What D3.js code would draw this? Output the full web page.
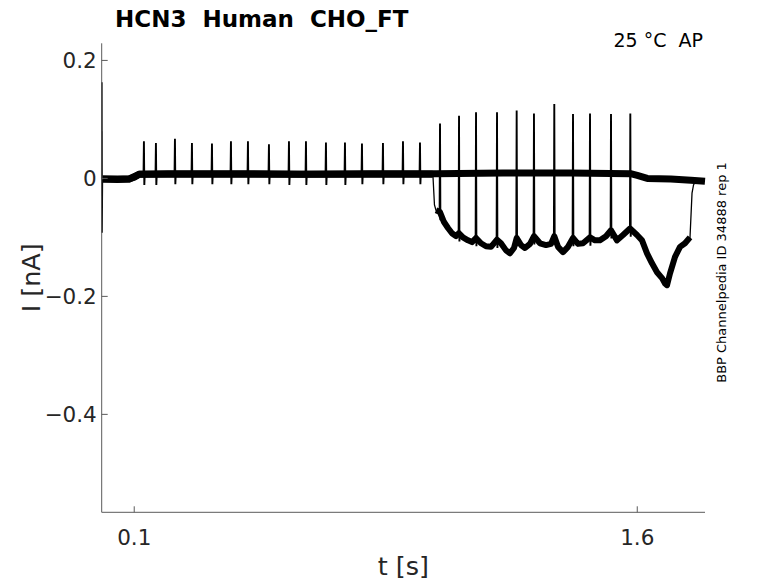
<!DOCTYPE html>
<html>
<head>
<meta charset="utf-8">
<script src="https://cdn.jsdelivr.net/npm/d3@7"></script>
<style>
  html, body { margin: 0; padding: 0; background: #fff; }
  svg { display: block; font-family: "DejaVu Sans", sans-serif; }
</style>
</head>
<body>
<svg id="chart" width="778" height="583"></svg>
<script>
// ---------- data ----------
const xTicks = [0.1, 1.6];
const xTickLabels = ["0.1", "1.6"];
const yTicks = [0.2, 0, -0.2, -0.4];
const yTickLabels = ["0.2", "0", "\u22120.2", "\u22120.4"];

// upper sweep baseline [t (s), I (nA)]
const upperBase = [
  [0.003, -0.001], [0.05, -0.002], [0.085, -0.001], [0.10, 0.002], [0.115, 0.007],
  [0.20, 0.008], [0.40, 0.008], [0.60, 0.007], [0.80, 0.008], [1.00, 0.008],
  [1.20, 0.009], [1.40, 0.009], [1.58, 0.008], [1.60, 0.005], [1.63, 0.000],
  [1.70, -0.001], [1.76, -0.003], [1.802, -0.005]
];
// spikes on the upper sweep
const upperSpikeT = [0.1289, 0.1647, 0.2214, 0.2721, 0.3318, 0.3884, 0.4391, 0.5017,
  0.5614, 0.6121, 0.6717, 0.7284, 0.7791, 0.8417, 0.9014, 0.9521];
const upperSpikePeak = [0.063, 0.060, 0.067, 0.060, 0.059, 0.063, 0.063, 0.058,
  0.063, 0.063, 0.061, 0.061, 0.059, 0.060, 0.063, 0.061];
const upperSpikeBase = [0.007, 0.007, 0.008, 0.008, 0.008, 0.008, 0.008, 0.008,
  0.007, 0.007, 0.007, 0.007, 0.008, 0.008, 0.008, 0.008];

// lower sweep (deviates from ~1.0 s to ~1.77 s)
const lowerTrace = [
  [0.003, -0.001], [0.085, -0.001], [0.115, 0.007], [0.99, 0.007],
  [0.9908, 0.004], [0.9953, -0.045], [0.9998, -0.054], [1.0117, -0.057], [1.0237, -0.074],
  [1.0356, -0.084], [1.0475, -0.093], [1.0594, -0.098], [1.0684, -0.093], [1.0803, -0.100],
  [1.0952, -0.105], [1.1072, -0.108], [1.1191, -0.101], [1.1340, -0.110], [1.1489, -0.115],
  [1.1638, -0.116], [1.1817, -0.104], [1.1936, -0.110], [1.2086, -0.122], [1.2205, -0.127],
  [1.2324, -0.118], [1.2405, -0.101], [1.2533, -0.113], [1.2652, -0.118], [1.2801, -0.111],
  [1.2921, -0.098], [1.3100, -0.110], [1.3279, -0.113], [1.3428, -0.111], [1.3526, -0.098],
  [1.3637, -0.116], [1.3786, -0.125], [1.3935, -0.116], [1.4084, -0.101], [1.4233, -0.111],
  [1.4382, -0.110], [1.4591, -0.100], [1.4740, -0.105], [1.4889, -0.105], [1.5068, -0.098],
  [1.5217, -0.088], [1.5396, -0.105], [1.5575, -0.096], [1.5784, -0.085], [1.5993, -0.096],
  [1.6142, -0.105], [1.6291, -0.127], [1.6440, -0.144], [1.6589, -0.159], [1.6738, -0.169],
  [1.6828, -0.178], [1.6887, -0.181], [1.6977, -0.161], [1.7126, -0.133], [1.7275, -0.116],
  [1.7424, -0.110], [1.7573, -0.100], [1.7633, -0.025], [1.7678, -0.011], [1.775, -0.004],
  [1.802, -0.005]
];
// spikes on the lower sweep
const lowerSpikeT = [1.0118, 1.0685, 1.1192, 1.1818, 1.2404, 1.2920, 1.3526, 1.4084,
  1.4591, 1.5217, 1.5793];
const lowerSpikePeak = [0.093, 0.106, 0.112, 0.112, 0.115, 0.110, 0.126, 0.109,
  0.110, 0.109, 0.110];
const lowerSpikeBase = [-0.057, -0.093, -0.101, -0.104, -0.101, -0.098, -0.098, -0.101,
  -0.100, -0.088, -0.085];

// capacitive transient at the very start [t, I]
const transientUpper = [[0.0030, -0.001], [0.0035, 0.163], [0.0040, -0.092], [0.0052, -0.002]];
const transientLower = [[0.0028, -0.001], [0.0032, 0.080], [0.0037, -0.030], [0.0048, -0.001]];

// ---------- layout ----------
const svg = d3.select("#chart");
const L = 101.7, R = 705, T = 43.3, B = 512.3;
const x = d3.scaleLinear().domain([0.003, 1.802]).range([L, R]);
const y = d3.scaleLinear().domain([-0.566, 0.229]).range([B, T]);
const line = d3.line().x(d => x(d[0])).y(d => y(d[1]));

const clipId = "plotclip";
svg.append("defs").append("clipPath").attr("id", clipId)
  .append("rect").attr("x", L - 1).attr("y", T - 1).attr("width", R - L + 2).attr("height", B - T + 2);
const plot = svg.append("g").attr("clip-path", `url(#${clipId})`);

// lower sweep: thin full path + thick noisy body
plot.append("path").datum(lowerTrace).attr("d", line)
  .attr("fill", "none").attr("stroke", "#000").attr("stroke-width", 1.3);
plot.append("path").datum(lowerTrace.filter(d => d[0] >= 0.9998 && d[0] <= 1.7573)).attr("d", line)
  .attr("fill", "none").attr("stroke", "#000").attr("stroke-width", 6).attr("stroke-linejoin", "round");
plot.append("path").datum(lowerTrace.filter(d => d[0] <= 0.99)).attr("d", line)
  .attr("fill", "none").attr("stroke", "#000").attr("stroke-width", 7);

// upper sweep baseline
plot.append("path").datum(upperBase).attr("d", line)
  .attr("fill", "none").attr("stroke", "#000").attr("stroke-width", 7).attr("stroke-linejoin", "round");

// spikes
const spikeDt = 0.0012;
function spikePath(t, base, peak, undershoot) {
  return line([[t - spikeDt, base], [t, peak], [t + spikeDt, base - undershoot], [t + 2 * spikeDt, base]]);
}
plot.selectAll(".uspike").data(upperSpikeT).join("path").attr("class", "uspike")
  .attr("d", (t, i) => spikePath(t, upperSpikeBase[i], upperSpikePeak[i], 0.018))
  .attr("fill", "none").attr("stroke", "#000").attr("stroke-width", 1.9);
plot.selectAll(".lspike").data(lowerSpikeT).join("path").attr("class", "lspike")
  .attr("d", (t, i) => spikePath(t, lowerSpikeBase[i], lowerSpikePeak[i], 0.014))
  .attr("fill", "none").attr("stroke", "#000").attr("stroke-width", 1.9);

// transients
plot.append("path").datum(transientLower).attr("d", line)
  .attr("fill", "none").attr("stroke", "#888").attr("stroke-width", 1.5);
plot.append("path").datum(transientUpper).attr("d", line)
  .attr("fill", "none").attr("stroke", "#000").attr("stroke-width", 1.5);

// ---------- axes ----------
const axisColor = "#5a5a5a";
const textColor = "#262626";
const tickLen = 6;
svg.append("line").attr("x1", L).attr("x2", L).attr("y1", T).attr("y2", B)
  .attr("stroke", axisColor).attr("stroke-width", 1);
svg.append("line").attr("x1", L).attr("x2", R).attr("y1", B).attr("y2", B)
  .attr("stroke", axisColor).attr("stroke-width", 1);

svg.selectAll(".ytick").data(yTicks).join("line").attr("class", "ytick")
  .attr("x1", L).attr("x2", L + tickLen).attr("y1", d => y(d)).attr("y2", d => y(d))
  .attr("stroke", axisColor);
svg.selectAll(".ylab").data(yTicks).join("text").attr("class", "ylab")
  .attr("x", L - 5).attr("y", d => y(d)).attr("dy", "0.36em")
  .attr("text-anchor", "end").attr("font-size", 21.5).attr("fill", textColor)
  .text((d, i) => yTickLabels[i]);

svg.selectAll(".xtick").data(xTicks).join("line").attr("class", "xtick")
  .attr("x1", d => x(d)).attr("x2", d => x(d)).attr("y1", B).attr("y2", B - tickLen)
  .attr("stroke", axisColor);
svg.selectAll(".xlab").data(xTicks).join("text").attr("class", "xlab")
  .attr("x", d => x(d)).attr("y", 545)
  .attr("text-anchor", "middle").attr("font-size", 21.5).attr("fill", textColor)
  .text((d, i) => xTickLabels[i]);

// axis labels
svg.append("text").attr("x", (L + R) / 2).attr("y", 575)
  .attr("text-anchor", "middle").attr("font-size", 25.5).attr("fill", textColor).text("t [s]");
svg.append("text").attr("transform", `translate(40, ${(T + B) / 2}) rotate(-90)`)
  .attr("text-anchor", "middle").attr("font-size", 25.5).attr("fill", textColor).text("I [nA]");

// title and annotations
svg.append("text").attr("x", 115).attr("y", 27)
  .attr("font-size", 23).attr("font-weight", "bold").attr("fill", "#000")
  .style("white-space", "pre")
  .text("HCN3  Human  CHO_FT");
svg.append("text").attr("x", 703).attr("y", 47)
  .attr("text-anchor", "end").attr("font-size", 19).attr("fill", "#000")
  .style("white-space", "pre")
  .text("25 °C  AP");
svg.append("text").attr("transform", "translate(726, 272.5) rotate(-90)")
  .attr("text-anchor", "middle").attr("font-size", 13).attr("fill", "#000")
  .text("BBP Channelpedia ID 34888 rep 1");
</script>
</body>
</html>
